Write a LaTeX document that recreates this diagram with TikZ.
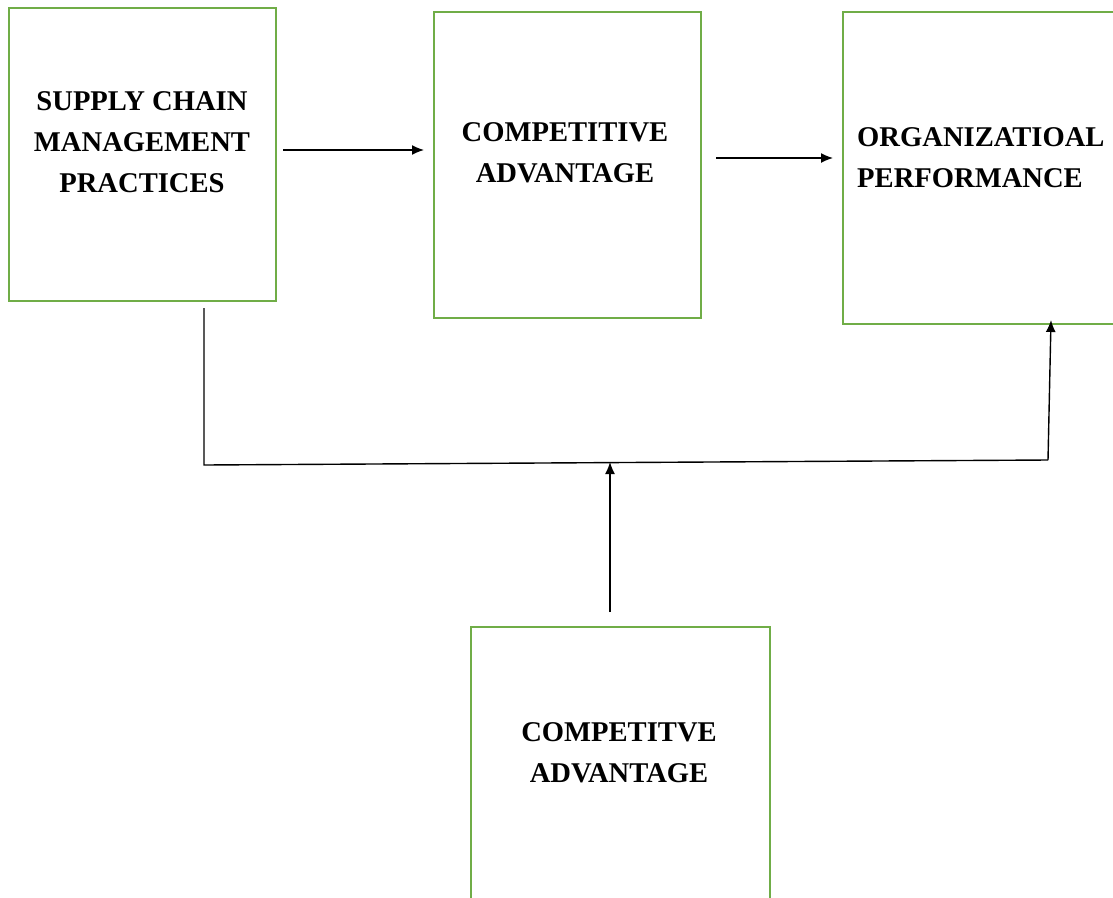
\documentclass[tikz,border=0pt]{standalone}
\usepackage{fontspec}
\setmainfont{Liberation Serif}
\usetikzlibrary{arrows.meta}
\definecolor{boxgreen}{RGB}{112,173,71}
\begin{document}
\begin{tikzpicture}[x=1pt,y=-1pt,
  box/.style={draw=boxgreen,line width=1.8pt,fill=white,anchor=north west,inner sep=0pt},
  lbl/.style={font=\fontsize{28.6}{41}\selectfont\bfseries,inner sep=0pt,align=center},
  conn/.style={draw=black,line width=1.4pt},
  arr/.style={conn,-{Latex[length=12pt,width=10pt]}}]
\useasboundingbox (0,0) rectangle (1113,897);
\fill[white] (0,0) rectangle (1113,897);
% boxes
\node[box,minimum width=267pt,minimum height=293pt] (scm) at (8,7) {};
\node[box,minimum width=267pt,minimum height=306pt] (ca) at (433,11) {};
\node[box,minimum width=290pt,minimum height=312pt] (op) at (842,11) {};
\node[box,minimum width=299pt,minimum height=300pt] (cb) at (470,626) {};
% labels
\node[lbl] (scmt) at (142,142) {SUPPLY CHAIN\\MANAGEMENT\\PRACTICES};
\node[lbl] (cat) at (565,153) {COMPETITIVE\\ADVANTAGE};
\node[lbl,align=left,anchor=west] (opt) at (857,158) {ORGANIZATIOAL\\PERFORMANCE};
\node[lbl] (cbt) at (619,753) {COMPETITVE\\ADVANTAGE};
% connector points
\coordinate (a1s) at (283,150);
\coordinate (a1e) at (424,150);
\coordinate (a2s) at (716,158);
\coordinate (a2e) at (833,158);
\coordinate (ls) at (204,308);
\coordinate (lc) at (204,465);
\coordinate (rc) at (1048,460);
\coordinate (re) at (1051,320);
\coordinate (ms) at (610,612);
\coordinate (me) at (610,462);
% connectors
\draw[arr] (a1s) -- (a1e);
\draw[arr] (a2s) -- (a2e);
\draw[conn] (ls) -- (lc) -- (rc);
\draw[arr] (rc) -- (re);
\draw[arr] (ms) -- (me);
\end{tikzpicture}
\end{document}
